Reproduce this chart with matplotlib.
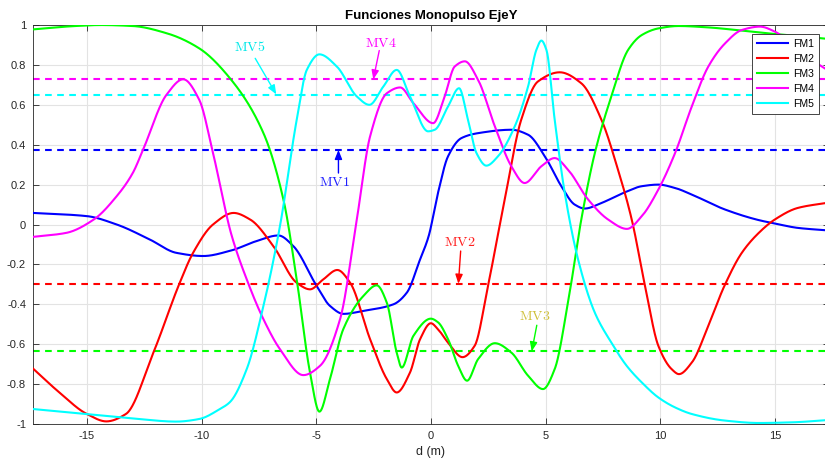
import numpy as np
import matplotlib
matplotlib.use("Agg")
import matplotlib.pyplot as plt

plt.rcParams['font.family'] = ['Liberation Sans', 'DejaVu Sans']
plt.rcParams['mathtext.fontset'] = 'cm'
plt.rcParams['axes.unicode_minus'] = False

# ---- monopulse functions sampled along d (m) ----
fm1_x = [-17.35, -15, -13.7, -12.26, -11.1, -9.93, -8.7, -7.6, -6.65, -6.0, -4.98, -4.4, -3.81,
         -2.94, -1.63, -1.05, -0.47, -0.1, 0.31, 0.75, 1.33, 2.06, 3.51, 4.24, 4.97, 5.69, 6.27,
         6.71, 7.44, 8.47, 9.2, 9.92, 10.65, 11.38, 12.83, 14.3, 15.0, 16.0, 17.35]
fm1_y = [0.058, 0.042, 0.0, -0.075, -0.142, -0.158, -0.13, -0.083, -0.055, -0.108, -0.308, -0.408,
         -0.448, -0.433, -0.40, -0.342, -0.175, -0.06, 0.158, 0.342, 0.433, 0.458, 0.475, 0.45,
         0.342, 0.192, 0.10, 0.08, 0.108, 0.162, 0.192, 0.2, 0.183, 0.15, 0.075, 0.022, 0.005,
         -0.017, -0.03]

fm2_x = [-17.35, -16.2, -15, -14.15, -13.3, -12.1, -10.95, -10.37, -9.5, -8.6, -7.88, -6.87, -5.85,
         -5.27, -4.69, -4.08, -3.52, -2.65, -1.92, -1.49, -0.91, -0.47, 0.0, 0.31, 0.75, 1.38,
         1.91, 2.49, 3.22, 3.94, 4.67, 5.62, 6.56, 7.44, 8.16, 8.76, 9.34, 9.92, 10.5, 10.82,
         11.38, 12.1, 12.8, 13.56, 14.3, 15.0, 16.0, 17.35]
fm2_y = [-0.722, -0.842, -0.95, -0.987, -0.95, -0.642, -0.292, -0.142, 0.0, 0.058, 0.025, -0.108,
         -0.292, -0.325, -0.275, -0.228, -0.292, -0.575, -0.775, -0.842, -0.742, -0.575, -0.495,
         -0.525, -0.592, -0.665, -0.608, -0.308, 0.125, 0.525, 0.717, 0.763, 0.708, 0.525, 0.275,
         0.025, -0.308, -0.608, -0.725, -0.75, -0.692, -0.508, -0.308, -0.142, -0.042, 0.025,
         0.083, 0.11]

fm3_x = [-17.35, -15.5, -14.4, -13.0, -11.5, -10.1, -8.76, -7.3, -6.43, -5.85, -5.27, -4.86, -4.4,
         -3.82, -2.94, -2.36, -1.92, -1.49, -1.27, -0.76, 0.0, 0.31, 0.75, 1.19, 1.58, 2.06, 2.79,
         3.51, 4.24, 4.89, 5.4, 5.98, 6.56, 7.15, 7.87, 8.6, 9.2, 9.92, 10.8, 12.1, 13.56, 15.0,
         16.0, 17.35]
fm3_y = [0.978, 0.995, 1.0, 0.995, 0.958, 0.883, 0.733, 0.458, 0.125, -0.275, -0.742, -0.938,
         -0.775, -0.525, -0.358, -0.305, -0.392, -0.642, -0.717, -0.558, -0.472, -0.49, -0.575,
         -0.708, -0.783, -0.675, -0.595, -0.642, -0.758, -0.825, -0.725, -0.392, 0.025, 0.358,
         0.642, 0.875, 0.95, 0.983, 0.995, 0.988, 0.972, 0.955, 0.945, 0.93]

fm4_x = [-17.35, -15.9, -14.7, -13.7, -13.0, -12.55, -11.53, -10.8, -10.1, -9.5, -8.7, -8.03, -7.3,
         -6.58, -5.56, -4.83, -3.96, -3.23, -2.65, -1.92, -1.34, -0.76, 0.1, 0.6, 1.04, 1.48, 2.06,
         2.79, 3.51, 4.09, 4.82, 5.4, 5.98, 6.86, 7.73, 8.55, 9.2, 9.92, 10.65, 11.38, 12.1, 12.83,
         13.56, 14.35, 15.0, 15.7, 16.4, 17.35]
fm4_y = [-0.062, -0.042, 0.025, 0.142, 0.258, 0.375, 0.65, 0.728, 0.625, 0.358, -0.05, -0.275,
         -0.475, -0.625, -0.755, -0.708, -0.475, 0.025, 0.442, 0.658, 0.687, 0.608, 0.508, 0.642,
         0.792, 0.818, 0.725, 0.492, 0.292, 0.208, 0.292, 0.333, 0.275, 0.125, 0.025, -0.022,
         0.042, 0.175, 0.358, 0.592, 0.792, 0.908, 0.975, 0.992, 0.967, 0.908, 0.842, 0.77]

fm5_x = [-17.35, -15, -13, -11.1, -10.1, -9.2, -8.76, -8.03, -7.3, -6.58, -5.85, -5.41, -4.86,
         -4.1, -3.23, -2.68, -2.07, -1.49, -0.91, -0.12, 0.17, 0.75, 1.23, 1.62, 1.99, 2.42, 2.93,
         3.66, 4.24, 4.6, 4.82, 5.04, 5.4, 5.84, 6.42, 7.15, 7.87, 8.55, 9.2, 9.92, 10.65, 11.38,
         12.83, 14.3, 15.7, 17.35]
fm5_y = [-0.925, -0.95, -0.972, -0.988, -0.975, -0.925, -0.89, -0.725, -0.408, -0.008, 0.525,
         0.775, 0.853, 0.792, 0.642, 0.60, 0.692, 0.775, 0.642, 0.467, 0.475, 0.592, 0.683, 0.525,
         0.358, 0.295, 0.342, 0.492, 0.692, 0.875, 0.922, 0.875, 0.525, 0.158, -0.175, -0.442,
         -0.592, -0.71, -0.792, -0.867, -0.917, -0.95, -0.983, -0.995, -0.992, -0.98]

# mean values of each function
mv_values = [0.374, -0.297, -0.636, 0.727, 0.65]
mv_labels = ['MV1', 'MV2', 'MV3', 'MV4', 'MV5']

series_labels = ['FM1', 'FM2', 'FM3', 'FM4', 'FM5']
colors = ['#0000ff', '#ff0000', '#00ff00', '#ff00ff', '#00ffff']
xlim = (-17.35, 17.35)
xticks = [-15, -10, -5, 0, 5, 10, 15]
yticks = [-1, -0.8, -0.6, -0.4, -0.2, 0, 0.2, 0.4, 0.6, 0.8, 1]
ytick_labels = ['-1', '-0.8', '-0.6', '-0.4', '-0.2', '0', '0.2', '0.4', '0.6', '0.8', '1']


def pchip(x, y, xs):
    """Shape-preserving cubic Hermite curve through (x, y)."""
    x = np.asarray(x, float)
    y = np.asarray(y, float)
    h = np.diff(x)
    d = np.diff(y) / h
    m = np.zeros_like(y)
    for k in range(1, len(x) - 1):
        if d[k - 1] * d[k] > 0:
            w1 = 2 * h[k] + h[k - 1]
            w2 = h[k] + 2 * h[k - 1]
            m[k] = (w1 + w2) / (w1 / d[k - 1] + w2 / d[k])
    m[0] = d[0]
    m[-1] = d[-1]
    idx = np.clip(np.searchsorted(x, xs) - 1, 0, len(h) - 1)
    t = (xs - x[idx]) / h[idx]
    h00 = 2 * t**3 - 3 * t**2 + 1
    h10 = t**3 - 2 * t**2 + t
    h01 = -2 * t**3 + 3 * t**2
    h11 = t**3 - t**2
    return (h00 * y[idx] + h10 * h[idx] * m[idx] + h01 * y[idx + 1]
            + h11 * h[idx] * m[idx + 1])


fig = plt.figure(figsize=(8.25, 4.65), dpi=100)
ax = fig.add_axes([0.04, 0.0882, 0.9645, 0.858])

xs = np.linspace(xlim[0], xlim[1], 2000)
series = [(fm1_x, fm1_y), (fm2_x, fm2_y), (fm3_x, fm3_y), (fm4_x, fm4_y), (fm5_x, fm5_y)]
for (sx, sy), c, lab in zip(series, colors, series_labels):
    ax.plot(xs, pchip(sx, sy, xs), color=c, lw=1.5, label=lab, zorder=3)

for v, c in zip(mv_values, colors):
    ax.axhline(v, color=c, lw=1.5, dashes=(3.2, 2.6), zorder=2)

# annotation arrows: (text pos, tail, head, text colour, arrow colour)
ann = {
    'MV1': ((-4.22, 0.212), (-4.03, 0.258), (-4.03, 0.374), '#2020ff', '#0000ff'),
    'MV2': ((1.24, -0.088), (1.30, -0.133), (1.20, -0.297), '#ff2020', '#ff0000'),
    'MV3': ((4.54, -0.458), (4.62, -0.505), (4.40, -0.636), '#cfc03a', '#00ff00'),
    'MV4': ((-2.17, 0.912), (-2.25, 0.872), (-2.51, 0.727), '#ff00ff', '#ff00ff'),
    'MV5': ((-7.92, 0.889), (-7.66, 0.833), (-6.74, 0.652), '#00e8e8', '#00ffff'),
}
for lab in mv_labels:
    tpos, tail, head, tc, ac = ann[lab]
    ax.text(tpos[0], tpos[1], r'$\mathrm{%s}$' % lab, color=tc, fontsize=10,
            ha='center', va='center', zorder=5)
    ax.annotate('', xy=head, xytext=tail,
                arrowprops=dict(arrowstyle='-|>,head_length=0.55,head_width=0.22',
                                color=ac, lw=1.0, shrinkA=0, shrinkB=0), zorder=5)

ax.set_xlim(*xlim)
ax.set_ylim(-1, 1)
ax.set_xticks(xticks)
ax.set_yticks(yticks)
ax.set_yticklabels(ytick_labels)
ax.grid(True, color='#e3e3e3', lw=0.8, zorder=0)
ax.set_axisbelow(True)
ax.tick_params(direction='in', top=True, right=True, length=4, width=0.6,
               labelsize=8, colors='#262626', pad=5)
for s in ax.spines.values():
    s.set_color('#262626')
    s.set_linewidth(0.6)

ax.set_title('Funciones Monopulso EjeY', fontsize=9.5, fontweight='bold', pad=4)
ax.set_xlabel('d (m)', fontsize=9, color='#262626', labelpad=4)

leg = ax.legend(loc='upper right', bbox_to_anchor=(0.988, 0.977), borderaxespad=0,
                fontsize=7.5, fancybox=False, framealpha=1, edgecolor='#262626',
                handlelength=3.0, handletextpad=0.5, labelspacing=0.48, borderpad=0.45)
leg.get_frame().set_linewidth(0.6)

fig.savefig('out.png', dpi=100)
